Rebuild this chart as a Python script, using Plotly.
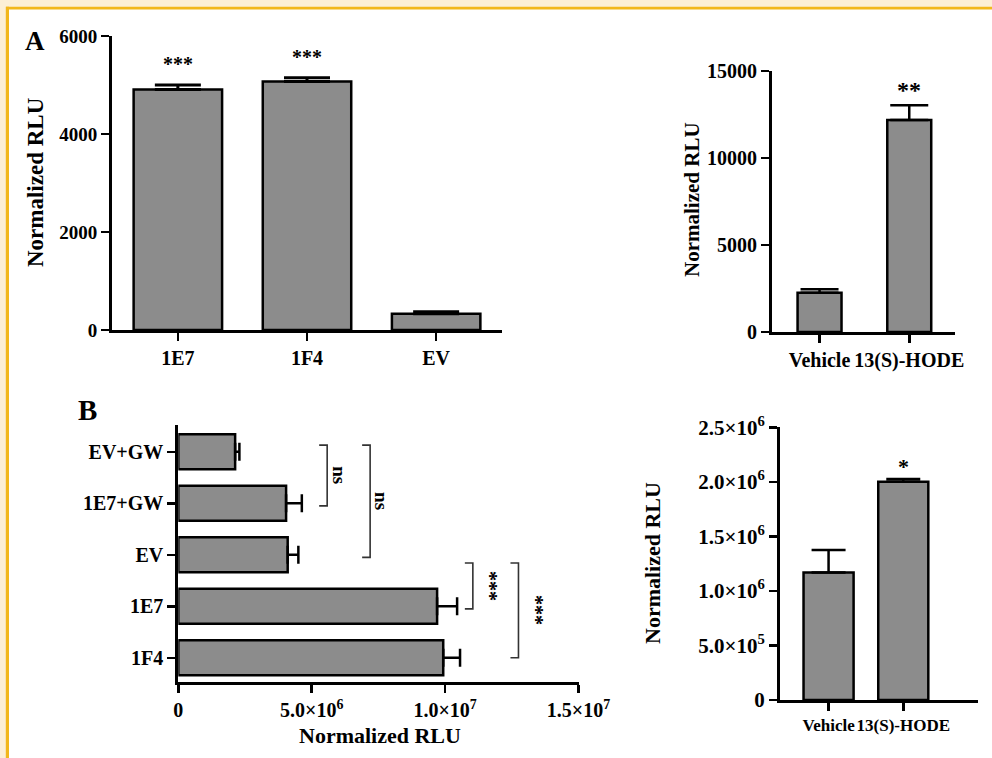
import plotly.graph_objects as go

W, H = 992, 758
FONT = "Liberation Serif"
BAR_FILL = "#8c8c8c"

# ---------------- data ----------------
# Panel A, left: luciferase activity of clones
a1_categories = ["1E7", "1F4", "EV"]
a1_values = [4910, 5070, 330]
a1_errors = [90, 80, 45]
a1_sig = ["***", "***", ""]
a1_yticks = [0, 2000, 4000, 6000]

# Panel A, right: vehicle vs 13(S)-HODE
a2_categories = ["Vehicle", "13(S)-HODE"]
a2_values = [2260, 12180]
a2_errors = [190, 850]
a2_sig = ["", "**"]
a2_yticks = [0, 5000, 10000, 15000]

# Panel B, left (listed bottom to top)
b1_categories = ["1F4", "1E7", "EV", "1E7+GW", "EV+GW"]
b1_values = [9.93e6, 9.70e6, 4.10e6, 4.04e6, 2.13e6]
b1_errors = [0.63e6, 0.75e6, 0.40e6, 0.59e6, 0.16e6]
b1_xticks = [0, 5e6, 1e7, 1.5e7]
b1_xticklabels = ["0", "5.0×10<sup>6</sup>", "1.0×10<sup>7</sup>", "1.5×10<sup>7</sup>"]
# comparisons: (category a, category b, label)
b1_comparisons = [("EV+GW", "1E7+GW", "ns"), ("EV+GW", "EV", "ns"),
                  ("EV", "1E7", "***"), ("EV", "1F4", "***")]
b1_bracket_x = [5.58e6, 7.19e6, 1.104e7, 1.275e7]

# Panel B, right
b2_categories = ["Vehicle", "13(S)-HODE"]
b2_values = [1.17e6, 2.00e6]
b2_errors = [0.205e6, 0.027e6]
b2_sig = ["", "*"]
b2_yticks = [0, 5e5, 1e6, 1.5e6, 2e6, 2.5e6]
b2_yticklabels = ["0", "5.0×10<sup>5</sup>", "1.0×10<sup>6</sup>", "1.5×10<sup>6</sup>",
                  "2.0×10<sup>6</sup>", "2.5×10<sup>6</sup>"]


def fx(px):
    return px / W


def fy(py):
    return 1 - py / H


def tfont(size):
    return dict(family=FONT, size=size, color="black", weight="bold")


fig = go.Figure()

# Panel A left
fig.add_trace(go.Bar(
    x=list(range(len(a1_categories))), y=a1_values, width=0.685,
    marker=dict(color=BAR_FILL, line=dict(color="black", width=2.5)),
    error_y=dict(type="data", array=a1_errors, arrayminus=[0] * len(a1_values),
                 symmetric=False, color="black", thickness=3, width=23),
    xaxis="x", yaxis="y", showlegend=False))

# Panel A right
fig.add_trace(go.Bar(
    x=list(range(len(a2_categories))), y=a2_values, width=0.49,
    marker=dict(color=BAR_FILL, line=dict(color="black", width=2.5)),
    error_y=dict(type="data", array=a2_errors, arrayminus=[0] * len(a2_values),
                 symmetric=False, color="black", thickness=2.5, width=19),
    xaxis="x2", yaxis="y2", showlegend=False))

# Panel B left (horizontal)
fig.add_trace(go.Bar(
    y=list(range(len(b1_categories))), x=b1_values, width=0.68, orientation="h",
    marker=dict(color=BAR_FILL, line=dict(color="black", width=2.5)),
    error_x=dict(type="data", array=b1_errors, arrayminus=[0] * len(b1_values),
                 symmetric=False, color="black", thickness=2.5, width=9),
    xaxis="x3", yaxis="y3", showlegend=False))

# Panel B right
fig.add_trace(go.Bar(
    x=list(range(len(b2_categories))), y=b2_values, width=0.67,
    marker=dict(color=BAR_FILL, line=dict(color="black", width=2.5)),
    error_y=dict(type="data", array=b2_errors, arrayminus=[0] * len(b2_values),
                 symmetric=False, color="black", thickness=2.5, width=17),
    xaxis="x4", yaxis="y4", showlegend=False))

axis_common = dict(showline=True, linecolor="black", linewidth=3, ticks="outside",
                   ticklen=8, tickwidth=2.5, tickcolor="black", showgrid=False,
                   zeroline=False, fixedrange=True, automargin=False, tickangle=0)

fig.update_layout(
    template="none",
    width=W, height=H, margin=dict(l=0, r=0, t=0, b=0, pad=0), autosize=False,
    paper_bgcolor="white", plot_bgcolor="rgba(0,0,0,0)", bargap=0,
    xaxis=dict(axis_common, domain=[fx(112), fx(502)], range=[-0.51, 2.51],
               tickvals=list(range(len(a1_categories))), ticktext=a1_categories,
               tickfont=tfont(20), anchor="y"),
    yaxis=dict(axis_common, domain=[fy(330), fy(36)], range=[0, 6000],
               tickvals=a1_yticks, tickformat="d", tickfont=tfont(19), anchor="x"),
    xaxis2=dict(axis_common, domain=[fx(772), fx(955)], range=[-0.53, 1.51],
                tickvals=list(range(len(a2_categories))), ticktext=a2_categories,
                tickfont=tfont(20), anchor="y2"),
    yaxis2=dict(axis_common, domain=[fy(332), fy(71)], range=[0, 15000],
                tickvals=a2_yticks, tickformat="d", tickfont=tfont(20), anchor="x2"),
    xaxis3=dict(axis_common, domain=[fx(178.3), fx(578.5)], range=[0, 1.5e7],
                tickvals=b1_xticks, ticktext=b1_xticklabels, tickfont=tfont(20),
                anchor="y3"),
    yaxis3=dict(axis_common, domain=[fy(682), fy(425)], range=[-0.47, 4.52],
                tickvals=list(range(len(b1_categories))), ticktext=b1_categories,
                tickfont=tfont(20), anchor="x3"),
    xaxis4=dict(axis_common, domain=[fx(780), fx(978)], range=[-0.65, 2.0],
                tickvals=list(range(len(b2_categories))), ticktext=b2_categories,
                tickfont=tfont(17), anchor="y4"),
    yaxis4=dict(axis_common, domain=[fy(700), fy(427.3)], range=[0, 2.5e6],
                tickvals=b2_yticks, ticktext=b2_yticklabels, tickfont=tfont(21),
                anchor="x4"),
)

ann = []
shapes = []


def label(text, px, py, size, angle=0):
    return dict(text=text, x=fx(px), y=fy(py), xref="paper", yref="paper",
                xanchor="center", yanchor="middle", showarrow=False,
                textangle=angle, font=tfont(size))


# panel letters and axis titles
ann.append(label("A", 35, 41, 27))
ann.append(label("B", 87, 410, 29))
for (px, py, size) in [(36, 182, 23), (692, 200, 21), (652, 563, 22)]:
    ann.append(label("Normalized RLU", px, py, size, -90))
ann.append(label("Normalized RLU", 380, 735, 22))

# significance stars above vertical bars
for vals, errs, sig, xr, yr, shift, size in [
        (a1_values, a1_errors, a1_sig, "x", "y", 21, 20),
        (a2_values, a2_errors, a2_sig, "x2", "y2", 15, 24),
        (b2_values, b2_errors, b2_sig, "x4", "y4", 12, 22)]:
    for i, (v, e, s) in enumerate(zip(vals, errs, sig)):
        if s:
            ann.append(dict(text=s, x=i, y=v + e, xref=xr, yref=yr,
                            xanchor="center", yanchor="middle",
                            yshift=shift, showarrow=False, font=tfont(size)))

# brackets in panel B left
tick_len = 3.0e5
for (ca, cb, lab), bx in zip(b1_comparisons, b1_bracket_x):
    ia, ib = b1_categories.index(ca), b1_categories.index(cb)
    top, bot = max(ia, ib) + 0.13, min(ia, ib) - 0.05
    if lab == "***":
        top, bot = max(ia, ib) - 0.16, min(ia, ib) - 0.05
        if min(ia, ib) == 0:
            bot = 0.0
    path = "M {a},{t} L {b},{t} L {b},{d} L {a},{d}".format(
        a=bx - tick_len, b=bx, t=top, d=bot)
    shapes.append(dict(type="path", path=path, xref="x3", yref="y3",
                       line=dict(color="#333333", width=1.6)))
    ann.append(dict(text=lab, x=bx, y=(top + bot) / 2, xref="x3", yref="y3",
                    xanchor="center", yanchor="middle",
                    xshift=12 if lab == "ns" else 17, showarrow=False, textangle=90,
                    font=tfont(19 if lab == "ns" else 20)))

# page frame (cream band + gold rule on top and left)
cream = "#fcefd6"
gold = "#f2b71c"
shapes += [
    dict(type="rect", xref="paper", yref="paper", x0=0, x1=1, y0=fy(7), y1=1,
         fillcolor=cream, line=dict(width=0), layer="above"),
    dict(type="rect", xref="paper", yref="paper", x0=0, x1=fx(6), y0=0, y1=1,
         fillcolor=cream, line=dict(width=0), layer="above"),
    dict(type="rect", xref="paper", yref="paper", x0=fx(6), x1=1, y0=fy(9.5), y1=fy(6.7),
         fillcolor=gold, line=dict(width=0), layer="above"),
    dict(type="rect", xref="paper", yref="paper", x0=fx(5.8), x1=fx(9), y0=0, y1=fy(6.7),
         fillcolor=gold, line=dict(width=0), layer="above"),
]

fig.update_layout(annotations=ann, shapes=shapes)
fig.write_html("out.html",
               config={"displayModeBar": False, "staticPlot": True},
               post_script="document.body.style.margin='0';"
                           "document.body.style.padding='0';"
                           "document.body.style.overflow='hidden';")
